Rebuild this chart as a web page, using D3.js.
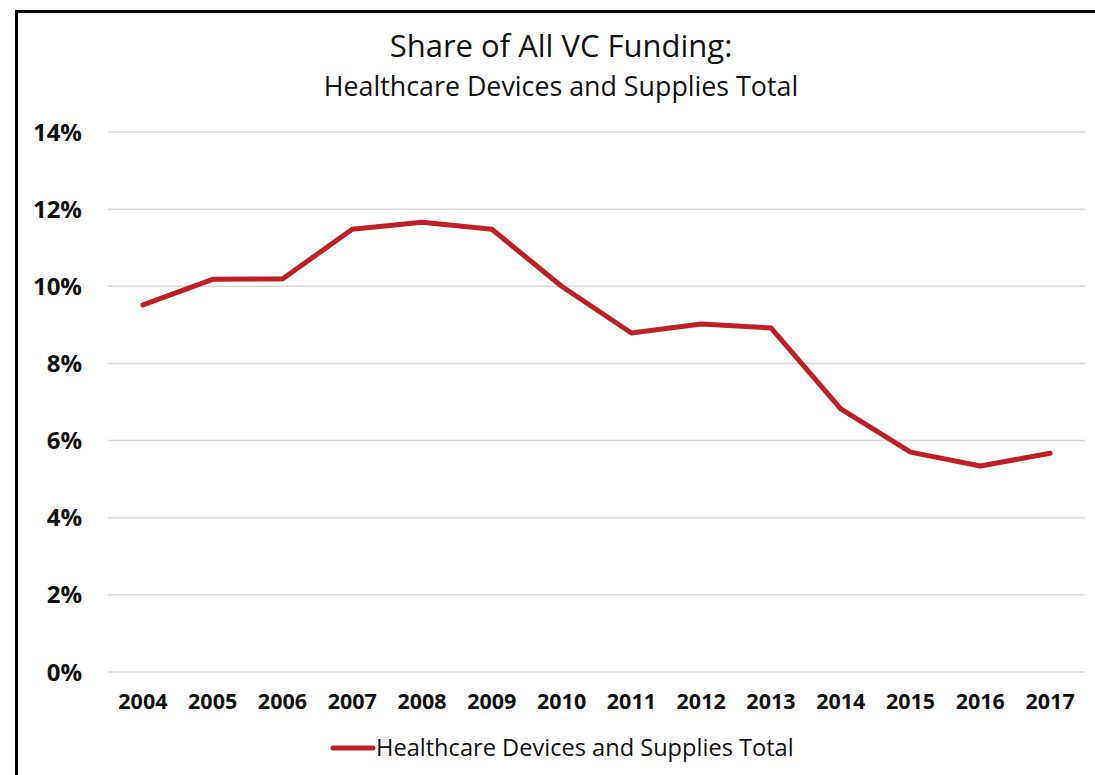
<!DOCTYPE html>
<html>
<head>
<meta charset="utf-8">
<script src="https://cdn.jsdelivr.net/npm/d3@7"></script>
<style>
  body { margin: 0; background: #fff; }
  text { font-family: "Open Sans", "Noto Sans", sans-serif; fill: #111; }
  .tick-label { font-weight: 700; }
</style>
</head>
<body>
<div id="chart"></div>
<script>
// chart data
const years = ["2004", "2005", "2006", "2007", "2008", "2009", "2010",
  "2011", "2012", "2013", "2014", "2015", "2016", "2017"];
const shareValues = [9.52, 10.18, 10.19, 11.48, 11.66, 11.48, 10.0,
  8.79, 9.02, 8.92, 6.82, 5.70, 5.34, 5.67];
const yTicks = [0, 2, 4, 6, 8, 10, 12, 14];
const seriesName = "Healthcare Devices and Supplies Total";
const titleLines = ["Share of All VC Funding:", "Healthcare Devices and Supplies Total"];

const width = 1095, height = 775;
const margin = { top: 132, right: 10, bottom: 103, left: 108 };
const lineColor = "#be2026";

const svg = d3.select("#chart")
  .append("svg")
  .attr("width", width)
  .attr("height", height);

// outer frame
svg.append("rect")
  .attr("x", 16.5)
  .attr("y", 11.5)
  .attr("width", width + 20)
  .attr("height", height + 20)
  .attr("fill", "none")
  .attr("stroke", "#000")
  .attr("stroke-width", 3);

const x = d3.scaleBand()
  .domain(years)
  .range([margin.left, width - margin.right]);

const y = d3.scaleLinear()
  .domain([0, 14])
  .range([height - margin.bottom, margin.top]);

// gridlines
svg.append("g")
  .selectAll("line")
  .data(yTicks)
  .join("line")
  .attr("x1", margin.left)
  .attr("x2", width - margin.right)
  .attr("y1", d => y(d))
  .attr("y2", d => y(d))
  .attr("stroke", "#d9d9d9")
  .attr("stroke-width", 1.5);

// y labels
svg.append("g")
  .selectAll("text")
  .data(yTicks)
  .join("text")
  .attr("class", "tick-label")
  .attr("x", 82)
  .attr("y", d => y(d) + 8.5)
  .attr("text-anchor", "end")
  .style("font-size", "24px")
  .text(d => d + "%");

// x labels
svg.append("g")
  .selectAll("text")
  .data(years)
  .join("text")
  .attr("class", "tick-label")
  .attr("x", d => x(d) + x.bandwidth() / 2)
  .attr("y", 709)
  .attr("text-anchor", "middle")
  .style("font-size", "21.5px")
  .text(d => d);

// the series line
const line = d3.line()
  .x((d, i) => x(years[i]) + x.bandwidth() / 2)
  .y(d => y(d));

svg.append("path")
  .datum(shareValues)
  .attr("d", line)
  .attr("fill", "none")
  .attr("stroke", lineColor)
  .attr("stroke-width", 5)
  .attr("stroke-linejoin", "round")
  .attr("stroke-linecap", "round");

// title
svg.append("text")
  .attr("x", 561)
  .attr("y", 57)
  .attr("text-anchor", "middle")
  .style("font-size", "31px")
  .text(titleLines[0]);

svg.append("text")
  .attr("x", 561)
  .attr("y", 96)
  .attr("text-anchor", "middle")
  .style("font-size", "26.8px")
  .text(titleLines[1]);

// legend
const legend = svg.append("g").attr("transform", "translate(333, 748)");
legend.append("line")
  .attr("x1", 0)
  .attr("x2", 40)
  .attr("stroke", lineColor)
  .attr("stroke-width", 5)
  .attr("stroke-linecap", "round");
legend.append("text")
  .attr("x", 43)
  .attr("y", 8)
  .style("font-size", "23.6px")
  .text(seriesName);
</script>
</body>
</html>
